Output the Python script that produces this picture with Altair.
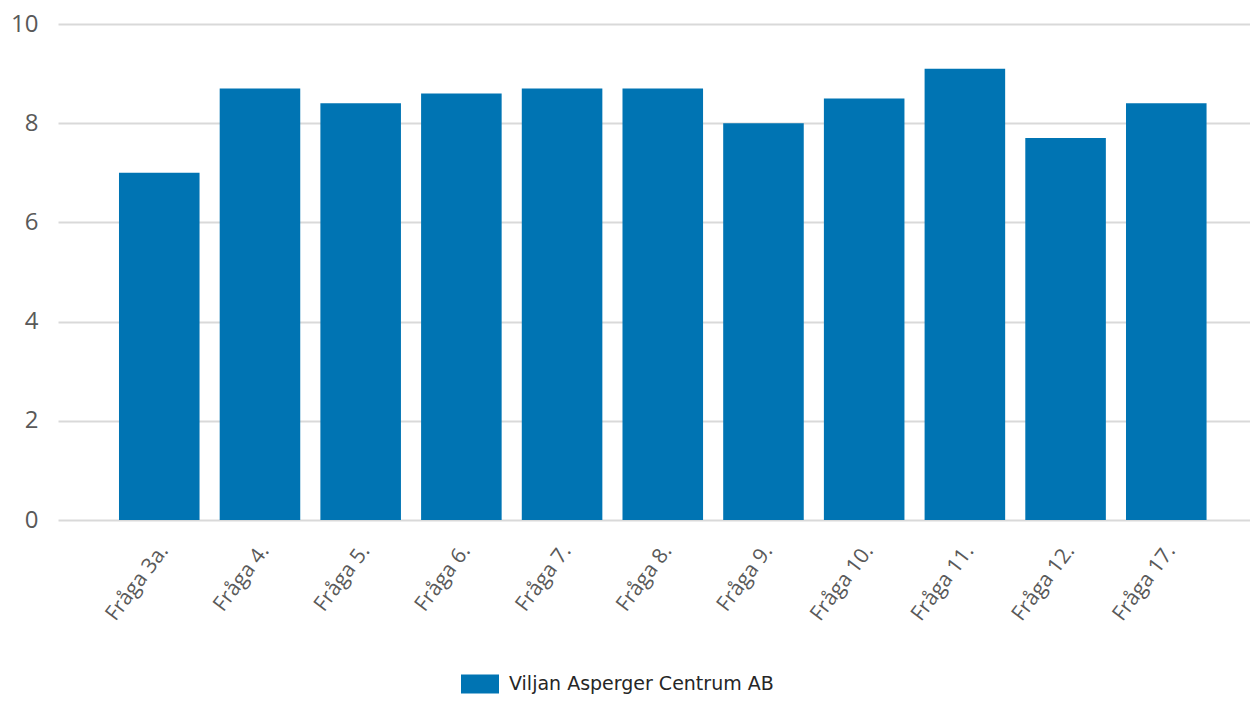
import altair as alt
import pandas as pd

categories = ["Fråga 3a.", "Fråga 4.", "Fråga 5.", "Fråga 6.", "Fråga 7.", "Fråga 8.",
              "Fråga 9.", "Fråga 10.", "Fråga 11.", "Fråga 12.", "Fråga 17."]
values = [7.0, 8.7, 8.4, 8.6, 8.7, 8.7, 8.0, 8.5, 9.1, 7.7, 8.4]
series = ["Viljan Asperger Centrum AB"] * len(categories)
y_ticks = [0, 2, 4, 6, 8, 10]

df = pd.DataFrame({"kategori": categories, "varde": values, "serie": series})

chart = alt.Chart(df).mark_bar(color="#0074b3").encode(
    x=alt.X("kategori:N", sort=categories, title=None,
            scale=alt.Scale(paddingInner=0.2, paddingOuter=0.5185, align=0.584),
            axis=alt.Axis(labelAngle=307, labelAlign="right", labelBaseline="middle",
                          labelPadding=27, labelOffset=5, ticks=False, domain=False,
                          grid=False, labelFont="Open Sans", labelFontSize=21,
                          labelColor="#595959")),
    y=alt.Y("varde:Q", title=None, scale=alt.Scale(domain=[0, 10], nice=False),
            axis=alt.Axis(values=y_ticks, ticks=False, domain=False, grid=True,
                          gridColor="#d9d9d9", gridWidth=2, labelPadding=20,
                          labelFont="Open Sans", labelFontSize=24,
                          labelColor="#595959")),
    fill=alt.Fill("serie:N", scale=alt.Scale(range=["#0074b3"]),
                  legend=alt.Legend(title=None, orient="none", legendX=403, legendY=641,
                                    symbolType="M-1,-0.5H1V0.5H-1Z", symbolSize=1444,
                                    symbolStrokeWidth=0, labelFont="DejaVu Sans",
                                    labelFontSize=19, labelColor="#262626",
                                    labelOffset=10, labelLimit=0, padding=0)),
).properties(
    width=1192, height=496,
    autosize=alt.AutoSizeParams(type="none"),
    padding={"left": 50, "top": 16, "right": 0, "bottom": 174},
).configure_view(stroke=None)

chart.save("out.html", embed_options={"renderer": "svg", "actions": False})
